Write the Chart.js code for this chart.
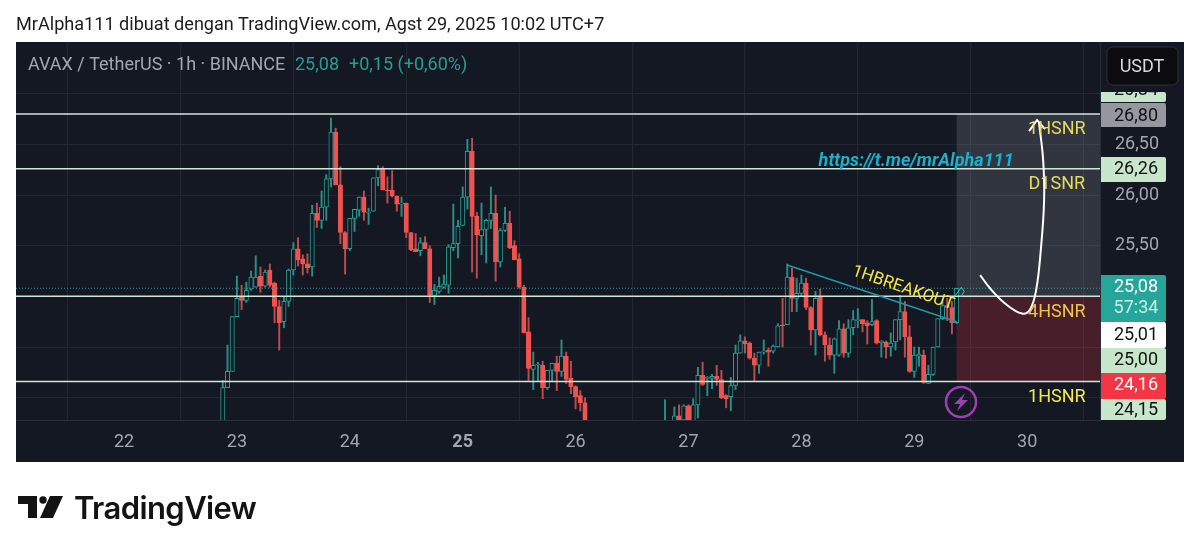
<!DOCTYPE html>
<html>
<head>
<meta charset="utf-8">
<style>
html,body{margin:0;padding:0;background:#fff;width:1200px;height:553px;overflow:hidden}
#c{position:absolute;left:0;top:0}
#title{position:absolute;left:16px;top:13px;font:18.1px Roboto,sans-serif;color:#1c1c1e;white-space:nowrap}
#brand{position:absolute;left:74px;top:489px;font:600 31px Inter,sans-serif;letter-spacing:-0.6px;color:#131313;white-space:nowrap}
#logo{position:absolute;left:16px;top:494px}
</style>
</head>
<body>
<canvas id="c" width="1200" height="553"></canvas>
<div id="title">MrAlpha111 dibuat dengan TradingView.com, Agst 29, 2025 10:02 UTC+7</div>
<svg id="logo" width="50" height="26" viewBox="0 0 50 26"><path fill="#131313" d="M2 2h19v22h-9V10H2z"/><circle cx="27" cy="6" r="3.7" fill="#131313"/><path fill="#131313" d="M34 2h13L37 24H24z"/></svg>
<div id="brand">TradingView</div>
<script src="https://cdn.jsdelivr.net/npm/chart.js@4"></script>
<script>
// Hours counted from Aug 22 00:00 (UTC+7)
const candleHours = [21,22,23,24,25,26,27,28,29,30,31,32,33,34,35,36,37,38,39,40,41,42,43,44,45,46,47,48,49,50,51,52,53,54,55,56,57,58,59,60,61,62,63,64,65,66,67,68,69,70,71,72,73,74,75,76,77,78,79,80,81,82,83,84,85,86,87,88,89,90,91,92,93,94,95,96,97,98,
115,117,118,119,120,121,122,123,124,125,126,127,128,129,130,131,132,133,134,135,136,137,138,139,140,141,142,143,144,145,146,147,148,149,150,151,152,153,154,155,156,157,158,159,160,161,162,163,164,165,166,167,168,169,170,171,172,173,174,175,176,177];
const opens = [23.70,24.10,24.26,24.80,24.99,24.96,25.07,25.09,25.20,25.10,25.26,25.13,24.90,24.75,24.95,25.26,25.47,25.37,25.32,25.29,25.82,25.75,25.88,26.16,26.62,26.10,25.63,25.47,25.77,25.85,25.98,25.82,25.84,26.17,26.26,26.05,26.05,25.99,25.91,25.92,25.63,25.47,25.45,25.53,25.47,25.01,25.05,25.09,25.11,25.48,25.52,25.70,25.98,26.43,25.79,25.60,25.66,25.75,25.82,25.34,25.65,25.72,25.50,25.37,25.09,24.65,24.28,24.32,24.32,24.10,24.27,24.34,24.26,24.41,24.19,24.11,24.02,23.95,
23.70,23.72,23.82,23.78,23.92,23.77,23.93,24.22,24.19,24.19,24.21,24.18,24.02,24.01,24.12,24.44,24.56,24.54,24.39,24.32,24.45,24.47,24.46,24.50,24.72,24.72,25.19,24.98,25.03,25.13,24.89,24.67,24.99,24.62,24.52,24.42,24.42,24.68,24.44,24.69,24.76,24.77,24.74,24.72,24.76,24.54,24.55,24.50,24.55,24.77,24.85,24.60,24.26,24.41,24.42,24.14,24.23,24.50,24.78,24.91,24.89,24.74];
const highs = [24.17,24.52,24.80,25.20,25.11,25.14,25.25,25.40,25.29,25.26,25.32,25.14,24.96,25.00,25.27,25.53,25.58,25.41,25.42,25.90,25.92,26.04,26.20,26.76,26.66,26.28,25.64,25.77,25.86,25.98,26.04,25.87,26.17,26.29,26.28,26.18,26.24,25.99,25.98,25.92,25.63,25.62,25.58,25.59,25.50,25.12,25.19,25.21,25.51,25.91,25.75,26.08,26.55,26.56,25.83,25.92,25.76,26.08,26.00,25.67,25.88,25.84,25.55,25.42,25.11,24.79,24.45,24.35,24.36,24.27,24.34,24.41,24.57,24.45,24.36,24.12,24.07,24.00,
23.98,23.91,23.93,23.93,23.93,23.99,24.30,24.35,24.21,24.23,24.32,24.27,24.03,24.20,24.52,24.62,24.60,24.55,24.44,24.45,24.57,24.49,24.52,24.73,24.98,25.32,25.28,25.18,25.21,25.18,24.90,25.05,25.07,24.65,24.59,24.59,24.76,24.73,24.77,24.86,24.88,24.77,24.76,24.97,24.77,24.56,24.56,24.64,24.77,25.01,24.95,24.71,24.50,24.50,24.47,24.32,24.50,24.78,24.95,24.98,24.95,25.08];
const lows = [23.60,24.10,24.26,24.80,24.87,24.94,25.06,25.09,25.04,25.09,25.09,24.74,24.47,24.69,24.90,25.21,25.30,25.21,25.23,25.20,25.68,25.67,25.75,26.08,26.10,25.52,25.22,25.45,25.64,25.79,25.75,25.71,25.84,26.09,26.05,25.92,25.98,25.84,25.79,25.58,25.45,25.44,25.40,25.47,24.94,24.92,25.03,25.08,25.03,25.45,25.38,25.70,25.86,25.24,25.18,25.41,25.33,25.67,25.15,25.29,25.64,25.47,25.36,25.08,24.64,24.17,24.08,24.16,23.99,24.08,24.16,24.07,24.21,24.14,24.04,23.89,23.87,23.76,
23.60,23.70,23.75,23.77,23.76,23.76,23.80,24.12,24.02,24.09,24.12,23.99,23.90,23.87,24.08,24.44,24.44,24.38,24.16,24.24,24.43,24.31,24.44,24.50,24.50,24.72,24.85,24.85,25.00,24.87,24.52,24.42,24.61,24.36,24.38,24.24,24.41,24.40,24.40,24.62,24.69,24.65,24.53,24.71,24.53,24.40,24.39,24.41,24.47,24.57,24.40,24.25,24.20,24.31,24.14,24.14,24.22,24.50,24.77,24.76,24.63,24.73];
const closes = [24.10,24.26,24.80,24.98,24.96,25.06,25.19,25.19,25.10,25.24,25.11,24.90,24.74,24.95,25.26,25.47,25.36,25.32,25.28,25.82,25.75,25.88,26.16,26.62,26.10,25.63,25.47,25.77,25.86,25.98,25.83,25.83,26.17,26.25,26.05,26.04,25.99,25.91,25.92,25.63,25.46,25.44,25.53,25.47,25.01,25.06,25.10,25.12,25.49,25.52,25.69,25.98,26.43,25.79,25.61,25.66,25.75,25.82,25.34,25.65,25.72,25.48,25.36,25.09,24.64,24.29,24.32,24.33,24.10,24.27,24.34,24.26,24.41,24.18,24.11,24.01,23.95,23.77,
23.74,23.82,23.77,23.92,23.77,23.93,24.22,24.13,24.20,24.21,24.18,24.00,23.99,24.12,24.44,24.56,24.53,24.39,24.32,24.45,24.46,24.45,24.51,24.71,24.71,25.19,24.98,25.03,25.13,24.89,24.67,24.98,24.62,24.52,24.42,24.58,24.68,24.44,24.69,24.77,24.77,24.73,24.71,24.75,24.54,24.56,24.50,24.54,24.77,24.85,24.60,24.26,24.42,24.43,24.15,24.23,24.50,24.78,24.91,24.89,24.74,25.08];

const dayHours = [0,24,48,72,96,120,144,168,192];
const dayLabels = ["22","23","24","25","26","27","28","29","30"];
const yTicks = [24,24.5,25,25.5,26,26.5,27];
const yLabelled = [25.5,26,26.5];
const supportLevels = [26.80,26.26,25.00,24.16];
const lastPrice = 25.08;
const hourMin = -22.96, hourMax = 207.48, priceMin = 23.78, priceMax = 27.51;
const positionStart = 177, positionTarget = 26.80, positionEntry = 25.00, positionStop = 24.16;
const trendHours = [141,177];
const trendPrices = [25.31,24.75];
const curveHours = [182,184.1,187.3,190.9,192.6,193.9,194.9,195.6,195.4,194.5];
const curvePrices = [25.21,25.08,24.93,24.83,24.87,25.06,25.46,25.95,26.34,26.72];
const headHours = [192.4,194.1,195.8];
const headPrices = [26.63,26.74,26.65];
const miniHeadHours = [176.6,178,178.6,178];
const miniHeadPrices = [25.0,25.09,25.05,25.0];
const noteTexts = ["1HSNR","D1SNR","4HSNR","1HSNR"];
const noteColors = ["#e4da62","#e4da62","#efc44c","#f3ea52"];
const noteHours = [198.3,198.3,198.3,198.3];
const notePrices = [26.65,26.10,24.84,24.00];
const priceTags = ["26,84","26,80","26,26","25,08","25,01","25,00","24,16","24,15"];

const GREEN="#2a9d92", RED="#ef5350", GREENW="#2a8d86", REDW="#bb4d4f", PANE="#141823";
const isUp = candleHours.map((_,i)=>closes[i]>=opens[i]);
const pts = (xs,ys)=>xs.map((x,i)=>({x,y:ys[i]}));
const flat = (y)=>[{x:hourMin,y},{x:hourMax,y}];

const paneBackground = {
  id:'pane',
  beforeDraw(ch){
    const c=ch.ctx; c.save();
    c.fillStyle=PANE; c.fillRect(16,42,1168,420);
    c.restore();
  },
  beforeDatasetsDraw(ch){
    const c=ch.ctx,x=ch.scales.x,y=ch.scales.y;
    const xa=x.getPixelForValue(positionStart), xb=ch.chartArea.right;
    c.save();
    c.fillStyle="rgba(120,123,134,0.3)";
    c.fillRect(xa,y.getPixelForValue(positionTarget),xb-xa,y.getPixelForValue(positionEntry)-y.getPixelForValue(positionTarget));
    c.fillStyle="rgba(242,54,69,0.23)";
    c.fillRect(xa,y.getPixelForValue(positionEntry),xb-xa,y.getPixelForValue(positionStop)-y.getPixelForValue(positionEntry));
    c.restore();
  }
};

const overlay = {
  id:'overlay',
  afterDraw(ch){
    const c=ch.ctx,x=ch.scales.x,y=ch.scales.y;
    c.save();
    c.textBaseline='middle';
    // level notes
    c.textAlign='center';
    c.font='18px Roboto';
    noteTexts.forEach((t,i)=>{c.fillStyle=noteColors[i];c.fillText(t,x.getPixelForValue(noteHours[i]),y.getPixelForValue(notePrices[i]));});
    // link
    c.font='italic bold 18px Roboto';
    c.fillStyle='#17b2cc';
    c.fillText('https://t.me/mrAlpha111',x.getPixelForValue(168.4),y.getPixelForValue(26.33));
    // breakout note
    c.save();
    c.translate(x.getPixelForValue(165.6),y.getPixelForValue(25.08));
    c.rotate(19*Math.PI/180);
    c.font='17px Roboto';
    c.fillStyle='#f5e642';
    c.fillText('1HBREAKOUT',0,0);
    c.restore();
    // flash badge
    c.strokeStyle='#9c3fb5';c.lineWidth=2.5;
    c.beginPath();c.arc(961,402,15,0,Math.PI*2);c.stroke();
    c.fillStyle='#9c3fb5';
    c.beginPath();c.moveTo(965,393);c.lineTo(954,404);c.lineTo(960,404);c.lineTo(957,411);c.lineTo(968,400);c.lineTo(962,400);c.closePath();c.fill();
    // legend
    c.textAlign='left';
    c.font='18px Roboto';
    c.fillStyle='#a3a6af';
    c.fillText('AVAX / TetherUS · 1h · BINANCE',28,65);
    c.fillStyle='#2a9d92';
    c.fillText('25,08',295,65);
    c.fillText('+0,15 (+0,60%)',349,65);
    // USDT button
    c.fillStyle='#0c0c0e';c.strokeStyle='#2a2e39';c.lineWidth=1;
    c.beginPath();c.roundRect(1107,47,71,38,6);c.fill();c.stroke();
    c.fillStyle='#d8dae0';c.textAlign='center';c.font='18px Roboto';
    c.fillText('USDT',1142,67);
    // price tags
    const layout=[[92,102,'#c8e6c9','#111',90],[103,127,'#9598a1','#111',116],[157,182,'#c8e6c9','#111',169],[275,322,'#26a69a','#fff',287],[322,348,'#ffffff','#111',335],[348,373,'#c8e6c9','#111',360],[373,399,'#f23645','#fff',385],[399,420,'#c8e6c9','#111',410]];
    layout.forEach((l,i)=>{
      c.fillStyle=l[2];
      c.beginPath();c.roundRect(1101,l[0],65,l[1]-l[0],[0,2,2,0]);c.fill();
      c.save();
      c.beginPath();c.rect(1101,l[0],65,l[1]-l[0]);c.clip();
      c.fillStyle=l[3];c.font='18px Roboto';
      c.fillText(priceTags[i],1136,l[4]);
      c.restore();
    });
    c.fillStyle='#c8f0ea';c.font='18px Roboto';
    c.fillText('57:34',1136,308);
    c.restore();
  }
};

new Chart(document.getElementById('c'),{
  type:'bar',
  plugins:[paneBackground,overlay],
  data:{datasets:[
    {type:'line',order:-3,data:pts(curveHours,curvePrices),borderColor:'#ffffff',borderWidth:2,pointRadius:0,tension:0.4,fill:false},
    {type:'line',order:-3,data:pts(headHours,headPrices),borderColor:'#ffffff',borderWidth:2,pointRadius:0,fill:false},
    {type:'line',order:-2,data:pts(miniHeadHours,miniHeadPrices),borderColor:'#3fc0c8',borderWidth:1,pointRadius:0,fill:false},
    {type:'line',order:-2,data:pts(trendHours,trendPrices),borderColor:'#2596a8',borderWidth:1.5,pointRadius:0,fill:false},
    ...supportLevels.map(v=>({type:'line',order:-1,data:flat(v),borderColor:'#d2e6d6',borderWidth:1.5,pointRadius:0,fill:false})),
    {type:'line',order:0,data:flat(lastPrice),borderColor:'#2a9d92',borderWidth:1,borderDash:[1,2],pointRadius:0,fill:false},
    {type:'bar',order:1,grouped:false,barThickness:4.4,borderWidth:1,borderSkipped:false,
      data:candleHours.map((h,i)=>({x:h,y:[opens[i],closes[i]]})),
      backgroundColor:isUp.map(u=>u?PANE:RED),borderColor:isUp.map(u=>u?GREEN:RED)},
    {type:'bar',order:2,grouped:false,barThickness:1.3,borderWidth:0,
      data:candleHours.map((h,i)=>({x:h,y:[lows[i],highs[i]]})),
      backgroundColor:isUp.map(u=>u?GREENW:REDW)}
  ]},
  options:{
    responsive:false,animation:false,
    layout:{padding:{left:16,top:42,right:16,bottom:91}},
    plugins:{legend:{display:false},tooltip:{enabled:false},title:{display:false}},
    scales:{
      x:{type:'linear',min:hourMin,max:hourMax,offset:false,
        afterBuildTicks(s){s.ticks=dayHours.map(v=>({value:v}));},
        afterFit(s){s.height=42;},
        grid:{color:'#232733',drawTicks:false},
        border:{color:'#2a2e39'},
        ticks:{autoSkip:false,maxRotation:0,padding:12,color:'#a3a6af',
          callback:v=>dayLabels[dayHours.indexOf(v)],
          font:ctx=>({family:'Roboto',size:18,weight:ctx.tick&&ctx.tick.value===72?'bold':'normal'})}
      },
      y:{type:'linear',position:'right',min:priceMin,max:priceMax,
        afterBuildTicks(s){s.ticks=yTicks.map(v=>({value:v}));},
        afterFit(s){s.width=84;},
        grid:{color:'#232733',drawTicks:false},
        border:{color:'#2a2e39'},
        ticks:{padding:15,color:'#a3a6af',font:{family:'Roboto',size:18},
          callback:v=>yLabelled.includes(v)?v.toFixed(2).replace('.',','):''}
      }
    }
  }
});
</script>
</body>
</html>
